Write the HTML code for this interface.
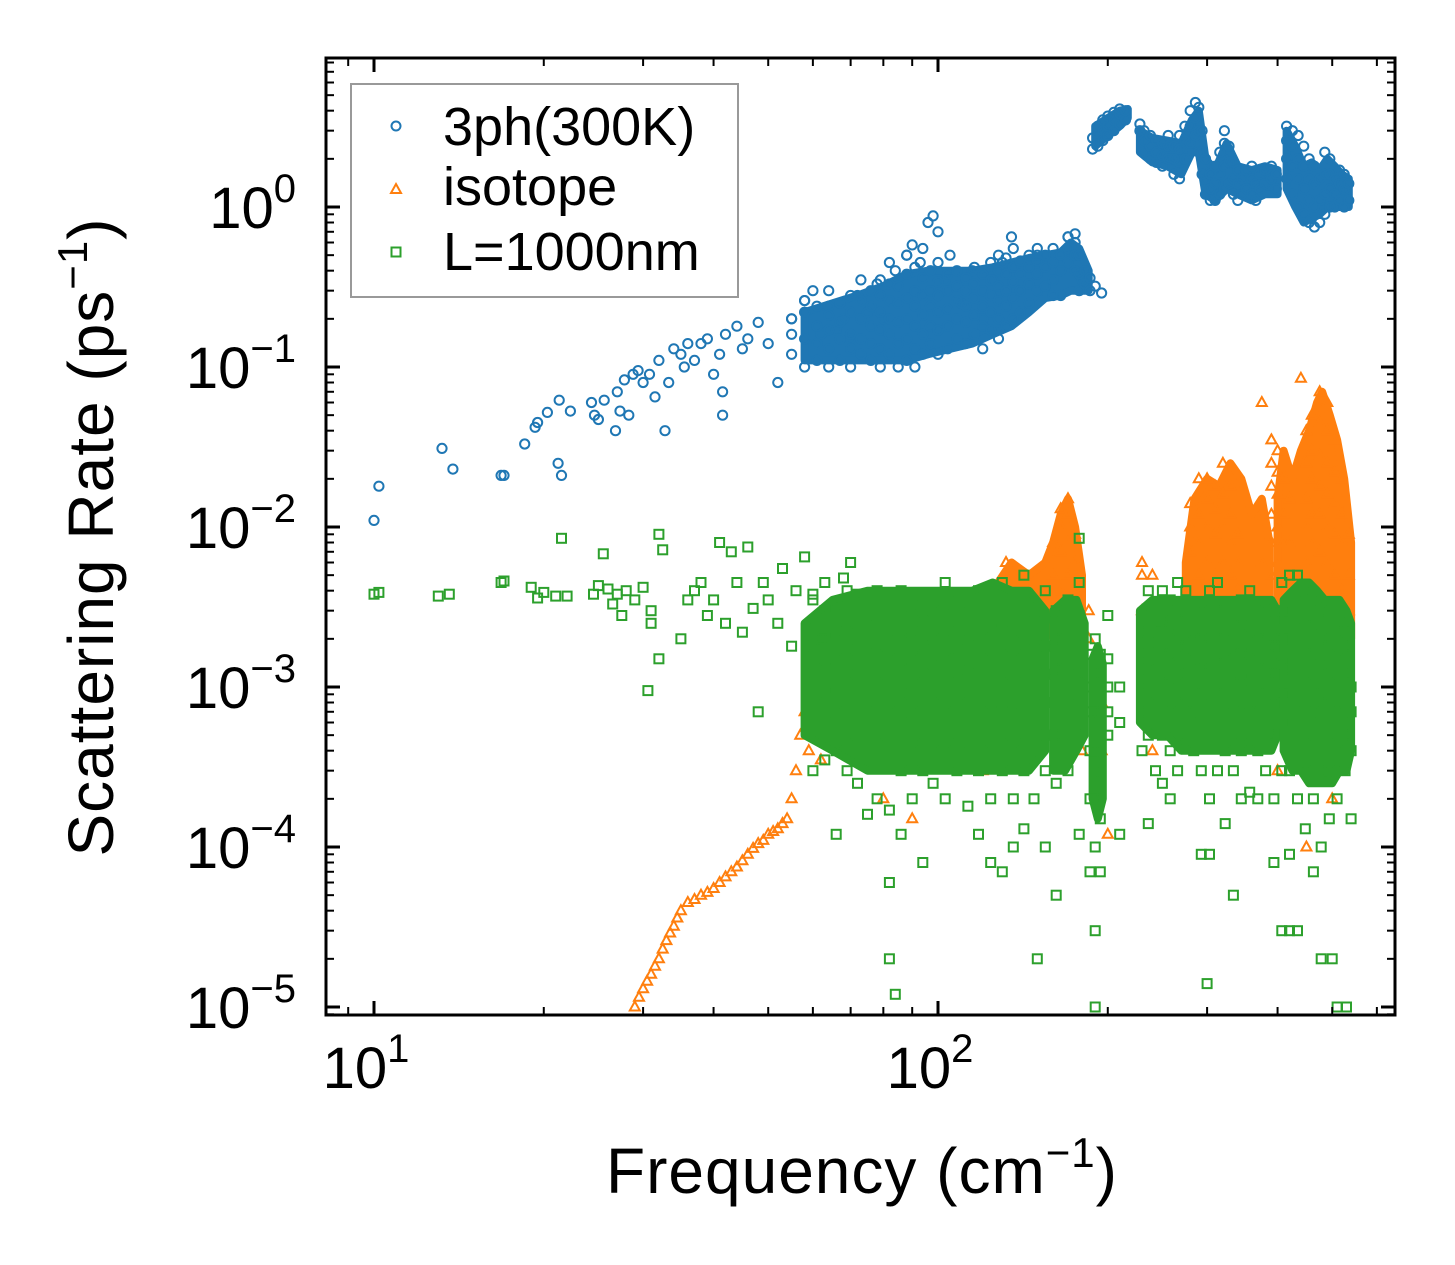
<!DOCTYPE html>
<html><head><meta charset="utf-8"><style>
html,body{margin:0;padding:0;background:#fff;}
svg{display:block;font-family:"Liberation Sans","DejaVu Sans",sans-serif;}
</style></head><body>
<svg id="chart" width="1455" height="1265" viewBox="0 0 1455 1265" xmlns="http://www.w3.org/2000/svg">
<rect x="0" y="0" width="1455" height="1265" fill="#fff"/>
<g id="marks"></g>
<g id="axes"></g>
<text x="862" y="1193" font-size="64" text-anchor="middle" letter-spacing="1">Frequency (cm<tspan font-size="42" dy="-26">−1</tspan><tspan dy="26">)</tspan></text>
<text transform="translate(113,537) rotate(-90)" font-size="64" text-anchor="middle" letter-spacing="1">Scattering Rate (ps<tspan font-size="42" dy="-26">−1</tspan><tspan dy="26">)</tspan></text>
<g>
<rect x="351" y="84" width="387" height="213" fill="#fff" stroke="#999" stroke-width="2"/>
<circle cx="396" cy="126" r="4.5" fill="none" stroke="#1f77b4" stroke-width="2"/>
<text x="443" y="145" font-size="54">3ph(300K)</text>
<path d="M396,184 L401,193 L391,193 Z" fill="none" stroke="#ff7f0e" stroke-width="2"/>
<text x="443" y="205" font-size="54">isotope</text>
<rect x="391.5" y="247.5" width="9" height="9" fill="none" stroke="#2ca02c" stroke-width="2"/>
<text x="443" y="270" font-size="54">L=1000nm</text>
</g>
</svg>
<script>
// ---- data ----
const xTickValues = [10, 100];
const xTickLabels = ["1", "2"];
const yTickValues = [1, 0.1, 0.01, 0.001, 0.0001, 0.00001];
const yTickLabels = ["0", "−1", "−2", "−3", "−4", "−5"];

// 3ph(300K): dense-region envelopes (freq, low rate, high rate)
const ph3BandAFreq = [58,65,72,80,88,96,105,115,125,135,145,155,165,172,178,185];
const ph3BandALow  = [0.11,0.11,0.11,0.11,0.11,0.12,0.13,0.14,0.16,0.18,0.22,0.27,0.28,0.3,0.3,0.3];
const ph3BandAHigh = [0.22,0.25,0.28,0.32,0.38,0.4,0.4,0.4,0.42,0.45,0.48,0.5,0.52,0.6,0.55,0.4];
const ph3BandBFreq = [190,200,210,217];
const ph3BandBLow  = [2.4,2.8,3.2,3.6];
const ph3BandBHigh = [3.2,3.6,4.0,4.1];
const ph3BandCFreq = [228,240,255,270,282,290,298,310,325,340,360,380,400];
const ph3BandCLow  = [2.2,1.9,1.8,1.6,2.2,2.2,1.2,1.1,1.3,1.2,1.1,1.2,1.2];
const ph3BandCHigh = [3.0,2.7,2.6,2.5,3.5,4.0,2.0,1.7,2.5,1.8,1.7,1.8,1.7];
const ph3BandDFreq = [415,430,445,460,475,490,505,520,535];
const ph3BandDLow  = [1.3,1.0,0.8,0.85,0.9,1.0,1.0,1.0,1.0];
const ph3BandDHigh = [3.0,2.4,1.8,1.9,1.7,2.0,1.8,1.6,1.5];

// 3ph(300K): sparse points [freq, rate]
const ph3Sparse = [[10,0.011],[10.2,0.018],[13.2,0.031],[13.8,0.023],[16.8,0.021],[17,0.021],[18.5,0.033],[19.3,0.042],[19.5,0.045],[20.3,0.052],[21.3,0.062],[21.2,0.025],[21.5,0.021],[22.3,0.053],[24.3,0.06],[24.6,0.05],[25,0.047],[25.6,0.062],[26.8,0.04],[27,0.07],[27.3,0.053],[27.8,0.083],[28.3,0.05],[28.8,0.09],[29.4,0.095],[30,0.08],[30.8,0.09],[31.5,0.065],[32,0.11],[32.8,0.04],[33.3,0.08],[34,0.13],[35,0.12],[35.5,0.1],[36,0.14],[37,0.11],[38,0.14],[39,0.15],[40,0.09],[41,0.12],[42,0.16],[41.5,0.07],[41.5,0.05],[44,0.18],[45,0.13],[46,0.15],[48,0.19],[50,0.14],[52,0.08],[55,0.2],[58,0.26],[60,0.3],[62,0.16],[64,0.24],[66,0.17],[68,0.2],[70,0.15],[72,0.28],[75,0.22],[78,0.33],[80,0.2],[84,0.4],[88,0.5],[90,0.58],[93,0.45],[96,0.8],[98,0.88],[100,0.7],[103,0.35],[105,0.5],[110,0.25],[115,0.4],[120,0.2],[125,0.35],[130,0.45],[135,0.65],[140,0.3],[150,0.5],[160,0.28],[170,0.65],[175,0.55],[180,0.35],[190,0.32],[195,0.29]];
// 3ph(300K): dense columns
const ph3Freqs = [55,58,61,64,67,70,73,76,79,82,85,88,91,94,97,100,104,108,112,116,120,124,128,132,136,140,145,150,155,160,165,170,175,178,182,186,188,192,196,200,205,210,215,228,232,238,244,250,256,262,268,274,280,286,290,294,298,304,310,316,322,328,334,340,346,352,360,366,372,380,390,398,415,425,435,445,455,465,475,485,495,505,515,525,535];
const ph3Rates = [[0.12,0.16,0.2],[0.1,0.15,0.22,0.26],[0.11,0.14,0.18,0.24],[0.1,0.13,0.17,0.21,0.3],[0.11,0.15,0.19,0.25],[0.1,0.13,0.16,0.22,0.28],[0.12,0.15,0.2,0.26,0.35],[0.11,0.14,0.18,0.24,0.3],[0.1,0.13,0.17,0.22,0.28,0.35],[0.12,0.16,0.2,0.26,0.33,0.45],[0.1,0.14,0.19,0.25,0.32],[0.11,0.15,0.2,0.27,0.38,0.5],[0.1,0.13,0.18,0.24,0.3,0.42],[0.12,0.16,0.21,0.28,0.36,0.55],[0.14,0.18,0.24,0.3,0.4],[0.12,0.17,0.22,0.28,0.34,0.45],[0.13,0.18,0.23,0.3,0.38],[0.15,0.2,0.26,0.32,0.4],[0.14,0.19,0.24,0.3,0.36],[0.16,0.21,0.27,0.33,0.42],[0.13,0.18,0.24,0.3,0.38],[0.17,0.22,0.28,0.35,0.45],[0.15,0.2,0.26,0.32,0.4,0.5],[0.18,0.24,0.3,0.38,0.48],[0.2,0.27,0.34,0.42,0.55],[0.22,0.3,0.38,0.46],[0.25,0.33,0.42,0.5],[0.3,0.38,0.46,0.55],[0.32,0.42,0.5],[0.35,0.45,0.55],[0.28,0.4,0.5],[0.45,0.55,0.65],[0.4,0.5,0.6,0.68],[0.3,0.38,0.5],[0.33,0.4],[0.3,0.36],[2.3,2.7],[2.4,2.8,3.2],[2.6,3.0,3.5],[2.8,3.2,3.7],[3.0,3.5,3.9],[3.3,3.8,4.1],[3.5,4.0],[3.0,3.3],[2.2,2.6,3.0],[2.0,2.4,2.8],[1.9,2.2,2.6],[1.8,2.1,2.5],[2.0,2.4,2.8],[1.6,2.0,2.4],[1.5,1.9,2.3,2.8],[2.0,2.6,3.2],[2.5,3.2,4.0],[2.8,3.6,4.5],[2.2,3.0,4.2],[1.6,2.2,3.0],[1.2,1.5,2.0],[1.1,1.3,1.6],[1.1,1.4,1.8],[1.2,1.6,2.2],[1.3,1.8,2.5,3.0],[1.4,1.9,2.4],[1.2,1.5,1.9],[1.1,1.4,1.7],[1.2,1.5],[1.3,1.7],[1.2,1.5,1.8],[1.1,1.4],[1.3,1.6],[1.4,1.7],[1.5,1.8],[1.3,1.6],[1.5,2.0,2.6,3.2],[1.2,1.8,2.4,3.0],[1.0,1.5,2.0,2.8],[0.9,1.3,1.8,2.4],[0.8,1.1,1.5,2.0],[0.75,1.0,1.4,1.8],[0.8,1.1,1.5],[0.9,1.2,1.6,2.2],[1.0,1.3,1.6,2.0],[1.0,1.2,1.5],[1.1,1.4,1.7],[1.0,1.3,1.6],[1.1,1.4]];

// isotope: dense-region envelopes
const isoBandAFreq = [125,135,145,155,160,165,170,175,180];
const isoBandALow  = [0.002,0.002,0.002,0.002,0.003,0.003,0.003,0.003,0.002];
const isoBandAHigh = [0.004,0.006,0.005,0.006,0.008,0.012,0.015,0.01,0.005];
const isoBandBFreq = [275,285,300,315,330,345,360,375,387];
const isoBandBLow  = [0.002,0.002,0.002,0.002,0.002,0.002,0.002,0.002,0.002];
const isoBandBHigh = [0.006,0.015,0.02,0.018,0.025,0.02,0.012,0.015,0.008];
const isoBandCFreq = [400,410,425,440,455,470,480,495,510,525,540];
const isoBandCLow  = [0.002,0.002,0.002,0.002,0.002,0.002,0.002,0.002,0.002,0.002,0.002];
const isoBandCHigh = [0.015,0.03,0.02,0.03,0.04,0.06,0.07,0.05,0.035,0.02,0.008];

// isotope: sparse points
const isoSparse = [[29,1.0e-5],[29.5,1.15e-5],[30,1.3e-5],[30.5,1.45e-5],[31,1.6e-5],[31.5,1.8e-5],[32,2e-5],[32.5,2.3e-5],[33,2.6e-5],[33.5,2.9e-5],[34,3.2e-5],[34.5,3.6e-5],[35,4e-5],[36,4.5e-5],[37,4.7e-5],[38,5e-5],[39,5.2e-5],[40,5.5e-5],[41,6e-5],[42,6.5e-5],[43,7e-5],[44,7.5e-5],[45,8.2e-5],[46,9e-5],[47,9.8e-5],[48,1.05e-4],[49,1.1e-4],[50,1.2e-4],[51,1.25e-4],[52,1.3e-4],[53,1.4e-4],[54,1.5e-4],[55,2e-4],[56,3e-4],[57,5e-4],[58,7e-4],[59,4e-4],[60,6e-4],[62,8e-4],[64,1e-3],[66,1.5e-3],[68,8e-4],[70,1.2e-3],[72,2e-3],[75,2.5e-3],[78,3e-3],[62,3.5e-4],[65,6e-4],[80,2e-4],[90,1.5e-4],[100,4e-4],[120,3e-4],[150,4e-4],[180,4e-4],[200,1.2e-4],[240,4e-4],[400,3e-4],[450,1e-4],[500,2e-4]];
// isotope: dense columns
const isoFreqs = [125,132,140,160,165,170,175,185,195,230,240,280,290,300,310,320,330,340,375,390,400,410,420,440,450,460,475,490,505,520,535];
const isoRates = [[0.002,0.003,0.004],[0.003,0.0045,0.006],[0.0025,0.004],[0.003,0.005,0.008],[0.004,0.007,0.01,0.013],[0.005,0.008,0.012,0.015],[0.004,0.006,0.009],[0.002,0.003],[0.0004,0.0008],[0.003,0.005,0.006],[0.003,0.005],[0.004,0.007,0.01,0.014],[0.005,0.008,0.012,0.02],[0.006,0.01,0.015,0.02],[0.005,0.009,0.013,0.018],[0.006,0.01,0.016,0.025],[0.005,0.008,0.012,0.018],[0.004,0.006,0.009],[0.006,0.06],[0.005,0.008,0.012,0.018,0.025,0.035],[0.006,0.01,0.016,0.022,0.03],[0.005,0.008,0.012,0.02],[0.008,0.015],[0.085],[0.006,0.01,0.015,0.025,0.04],[0.008,0.012,0.02,0.03,0.05],[0.007,0.012,0.018,0.028,0.045,0.07],[0.006,0.01,0.016,0.025,0.04,0.06],[0.005,0.009,0.014,0.022,0.035],[0.004,0.008,0.012,0.02],[0.003,0.005,0.009]];

// L=1000nm: dense-region envelopes
const bdyBandAFreq = [58,65,75,85,95,105,115,125,135,145,155];
const bdyBandALow  = [0.0005,0.0004,0.0003,0.0003,0.0003,0.0003,0.0003,0.0003,0.0003,0.0003,0.0004];
const bdyBandAHigh = [0.0025,0.0035,0.004,0.004,0.004,0.004,0.004,0.0045,0.004,0.004,0.003];
const bdyBandBFreq = [160,168,176,182];
const bdyBandBLow  = [0.0003,0.0003,0.0004,0.0005];
const bdyBandBHigh = [0.003,0.0035,0.0035,0.0025];
const bdyBandCFreq = [188,192,196];
const bdyBandCLow  = [0.0002,0.00015,0.0002];
const bdyBandCHigh = [0.0015,0.0018,0.0014];
const bdyBandDFreq = [228,240,255,270,285,300,315,330,345,360,375,390,400];
const bdyBandDLow  = [0.0006,0.0005,0.0005,0.0004,0.0004,0.0004,0.0004,0.0004,0.0004,0.0004,0.0004,0.0004,0.0005];
const bdyBandDHigh = [0.003,0.0035,0.0035,0.0035,0.0035,0.0035,0.0035,0.0035,0.0035,0.0035,0.0035,0.0035,0.003];
const bdyBandEFreq = [410,425,440,455,470,485,500,515,530,540];
const bdyBandELow  = [0.0004,0.0003,0.0003,0.00025,0.00025,0.00025,0.00025,0.0003,0.0003,0.0004];
const bdyBandEHigh = [0.0035,0.004,0.0045,0.0045,0.004,0.0035,0.0035,0.0035,0.003,0.0025];

// L=1000nm: sparse points
const bdySparse = [[10,0.0038],[10.2,0.0039],[13,0.0037],[13.6,0.0038],[16.8,0.0045],[17,0.0046],[19,0.0042],[19.5,0.0036],[20,0.0039],[21,0.0037],[21.5,0.0085],[22,0.0037],[24.5,0.0038],[25,0.0043],[25.5,0.0068],[26,0.0041],[26.5,0.0033],[27,0.0038],[27.5,0.0028],[28,0.004],[29,0.0035],[30,0.0042],[31,0.003],[32,0.009],[32.5,0.0072],[31,0.0025],[32,0.0015],[30.6,0.00095],[35,0.002],[36,0.0035],[37,0.004],[38,0.0045],[39,0.0028],[40,0.0035],[41,0.008],[42,0.0025],[43,0.007],[44,0.0045],[45,0.0022],[46,0.0075],[47,0.0031],[48,0.0007],[49,0.0045],[50,0.0035],[52,0.0025],[53,0.0055],[55,0.0018],[56,0.004],[58,0.0065],[60,0.0038],[62,0.002],[65,0.0028],[68,0.0048],[70,0.006],[82,0.00002],[84,0.000012],[150,0.00002],[190,0.00001],[210,0.00012],[300,0.000014],[420,0.00003],[500,0.00002],[530,0.00001]];
// L=1000nm: dense columns
const bdyFreqs = [60,63,66,69,72,75,78,82,86,90,94,98,103,108,113,118,124,130,136,142,148,155,162,170,178,186,190,194,200,210,230,236,243,250,258,266,275,284,293,303,313,323,334,345,357,369,381,394,407,420,434,448,463,478,494,510,527,540];
const bdyRates = [[0.0003,0.0005,0.0008,0.0012,0.0018,0.0025,0.0035],[0.00035,0.0006,0.0009,0.0013,0.002,0.003,0.0045],[0.00012,0.0004,0.0007,0.001,0.0015,0.0022,0.0032],[0.0003,0.0005,0.0008,0.0012,0.0017,0.0025,0.004],[0.00025,0.0006,0.0009,0.0014,0.002,0.0028,0.0038],[0.00016,0.0004,0.0007,0.0011,0.0016,0.0024,0.0035],[0.0002,0.0005,0.0008,0.0012,0.0018,0.0027,0.004],[0.00006,0.00017,0.0004,0.0007,0.001,0.0015,0.0022,0.003],[0.00012,0.0003,0.0006,0.0009,0.0013,0.002,0.0028,0.004],[0.0002,0.0004,0.0007,0.001,0.0015,0.0022,0.0032],[0.00008,0.0003,0.0005,0.0008,0.0012,0.0018,0.0026,0.0036],[0.00025,0.0004,0.0006,0.0009,0.0014,0.002,0.003],[0.0002,0.0004,0.0007,0.001,0.0015,0.0022,0.0032,0.0045],[0.0003,0.0005,0.0008,0.0012,0.0017,0.0025,0.0035],[0.00018,0.0004,0.0006,0.0009,0.0013,0.002,0.003],[0.00012,0.0003,0.0005,0.0008,0.0012,0.0018,0.0027,0.004],[0.00008,0.0002,0.0004,0.0007,0.001,0.0015,0.0023,0.0034],[0.00007,0.0003,0.0005,0.0008,0.0012,0.0018,0.0026,0.0045],[0.0001,0.0002,0.0004,0.0007,0.001,0.0015,0.0022,0.0033],[0.00013,0.0003,0.0005,0.0008,0.0012,0.0018,0.0028,0.005],[0.0002,0.0004,0.0006,0.0009,0.0014,0.002,0.003],[0.0001,0.0003,0.0005,0.0008,0.0012,0.0018,0.0027,0.004],[0.00005,0.00025,0.0005,0.0008,0.0013,0.002,0.003],[0.0003,0.0004,0.0006,0.0009,0.0014,0.0022,0.0035],[0.00012,0.0005,0.0008,0.0012,0.0018,0.0028,0.0045,0.0085],[0.00007,0.0002,0.0004,0.0007,0.001,0.0016],[0.00003,0.0001,0.0002,0.0004,0.0007,0.0012,0.002],[0.00007,0.00015,0.0003,0.0006,0.001,0.0016],[0.0005,0.0007,0.001,0.0015,0.0028],[0.0006,0.001],[0.0004,0.0007,0.0011,0.0016,0.0022],[0.00014,0.0005,0.0009,0.0013,0.0019,0.0027,0.004],[0.0003,0.0006,0.001,0.0015,0.0022,0.0032],[0.00025,0.0005,0.0008,0.0012,0.0018,0.0026,0.004],[0.0002,0.0004,0.0007,0.0011,0.0016,0.0024,0.0035],[0.0003,0.0006,0.0009,0.0014,0.002,0.003,0.0045],[0.0005,0.0008,0.0012,0.0018,0.0027,0.004],[0.0004,0.0007,0.001,0.0015,0.0022,0.0033],[0.00009,0.0003,0.0006,0.0009,0.0013,0.002,0.003],[0.00009,0.0002,0.0005,0.0008,0.0012,0.0018,0.0027,0.004],[0.0003,0.0006,0.0009,0.0014,0.002,0.003,0.0045],[0.00014,0.0004,0.0007,0.001,0.0015,0.0022,0.0033],[0.00005,0.0003,0.0005,0.0008,0.0012,0.0018,0.0027],[0.0002,0.0004,0.0007,0.0011,0.0016,0.0024,0.0035],[0.00022,0.0005,0.0008,0.0012,0.0018,0.0027,0.004],[0.0002,0.0004,0.0007,0.001,0.0015,0.0022,0.0033],[0.0003,0.0006,0.0009,0.0013,0.002,0.003],[0.00008,0.0002,0.0005,0.0008,0.0012,0.0018,0.0027],[0.00003,0.0003,0.0006,0.0009,0.0014,0.002,0.003,0.0045],[0.00009,0.0003,0.0006,0.0009,0.0013,0.002,0.003,0.005],[0.00003,0.0002,0.0004,0.0007,0.001,0.0015,0.0023,0.0035,0.005],[0.00013,0.0003,0.0005,0.0008,0.0012,0.0018,0.0027,0.004],[0.00007,0.0002,0.0004,0.0007,0.001,0.0016,0.0024,0.0035],[0.00002,0.0001,0.0003,0.0006,0.0009,0.0014,0.002,0.003],[0.00015,0.0003,0.0005,0.0008,0.0012,0.0018,0.0027],[0.00001,0.0002,0.0004,0.0007,0.001,0.0015,0.0022],[0.0003,0.0005,0.0008,0.0012,0.0018,0.0025],[0.00015,0.0004,0.0007,0.001]];

// ---- axes ----
const NS = "http://www.w3.org/2000/svg";
const PL = 326, PR = 1395, PT = 58, PB = 1015;
const X10 = 374, XDEC = 564, Y1 = 207, YDEC = 160;
function xs(v){ return X10 + (Math.log10(v) - 1) * XDEC; }
function ys(v){ return Y1 - Math.log10(v) * YDEC; }

const marks = document.getElementById('marks');
const axes = document.getElementById('axes');
function mk(tag, attrs, parent){
  const e = document.createElementNS(NS, tag);
  for (const k in attrs) e.setAttribute(k, attrs[k]);
  parent.appendChild(e);
  return e;
}
function inPlot(x, y){ return x >= PL - 6 && x <= PR + 6 && y >= PT - 6 && y <= PB + 6; }

function drawBand(freq, low, high, color, name){
  const pts = [];
  for (let i = 0; i < freq.length; i++) pts.push(xs(freq[i]).toFixed(1) + ',' + ys(high[i]).toFixed(1));
  for (let i = freq.length - 1; i >= 0; i--) pts.push(xs(freq[i]).toFixed(1) + ',' + ys(low[i]).toFixed(1));
  const p = mk('polygon', {points: pts.join(' '), fill: color, stroke: color, 'stroke-width': 8, 'stroke-linejoin': 'round'}, marks);
  
  
}
function drawCircle(f, r){
  const x = xs(f), y = ys(r);
  if (!inPlot(x, y)) return;
  const c = mk('circle', {cx: x.toFixed(1), cy: y.toFixed(1), r: 4.6, fill: 'none', stroke: '#1f77b4', 'stroke-width': 2}, marks);
  
  
}
function drawTri(f, r){
  const x = xs(f), y = ys(r);
  if (!inPlot(x, y)) return;
  const p = mk('path', {d: `M${x.toFixed(1)},${(y-5.5).toFixed(1)} L${(x+5).toFixed(1)},${(y+3.5).toFixed(1)} L${(x-5).toFixed(1)},${(y+3.5).toFixed(1)} Z`, fill: 'none', stroke: '#ff7f0e', 'stroke-width': 2}, marks);
  
  
}
function drawSq(f, r){
  const x = xs(f), y = ys(r);
  if (!inPlot(x, y)) return;
  const s = mk('rect', {x: (x-4.5).toFixed(1), y: (y-4.5).toFixed(1), width: 9, height: 9, fill: 'none', stroke: '#2ca02c', 'stroke-width': 2}, marks);
  
  
}

const BLUE = '#1f77b4', ORANGE = '#ff7f0e', GREEN = '#2ca02c';
drawBand(ph3BandAFreq, ph3BandALow, ph3BandAHigh, BLUE, 'dense-3ph-low');
drawBand(ph3BandBFreq, ph3BandBLow, ph3BandBHigh, BLUE, 'dense-3ph-high-a');
drawBand(ph3BandCFreq, ph3BandCLow, ph3BandCHigh, BLUE, 'dense-3ph-high-b');
drawBand(ph3BandDFreq, ph3BandDLow, ph3BandDHigh, BLUE, 'dense-3ph-high-c');
ph3Sparse.forEach(p => drawCircle(p[0], p[1]));
ph3Freqs.forEach((f, i) => ph3Rates[i].forEach(r => drawCircle(f, r)));

drawBand(isoBandAFreq, isoBandALow, isoBandAHigh, ORANGE, 'dense-isotope-a');
drawBand(isoBandBFreq, isoBandBLow, isoBandBHigh, ORANGE, 'dense-isotope-b');
drawBand(isoBandCFreq, isoBandCLow, isoBandCHigh, ORANGE, 'dense-isotope-c');
isoSparse.forEach(p => drawTri(p[0], p[1]));
isoFreqs.forEach((f, i) => isoRates[i].forEach(r => drawTri(f, r)));

drawBand(bdyBandAFreq, bdyBandALow, bdyBandAHigh, GREEN, 'dense-l1000nm-a');
drawBand(bdyBandBFreq, bdyBandBLow, bdyBandBHigh, GREEN, 'dense-l1000nm-b');
drawBand(bdyBandCFreq, bdyBandCLow, bdyBandCHigh, GREEN, 'dense-l1000nm-c');
drawBand(bdyBandDFreq, bdyBandDLow, bdyBandDHigh, GREEN, 'dense-l1000nm-d');
drawBand(bdyBandEFreq, bdyBandELow, bdyBandEHigh, GREEN, 'dense-l1000nm-e');
bdySparse.forEach(p => drawSq(p[0], p[1]));
bdyFreqs.forEach((f, i) => bdyRates[i].forEach(r => drawSq(f, r)));

// frame
const frame = mk('rect', {x: PL, y: PT, width: PR - PL, height: PB - PT, fill: 'none', stroke: '#000', 'stroke-width': 3}, axes);



// x ticks
for (let d = 0; d <= 2; d++) {
  for (let m = 1; m <= 9; m++) {
    const v = m * Math.pow(10, d);
    const x = xs(v);
    if (x < PL || x > PR) continue;
    const len = m === 1 ? 14 : 8;
    const t1 = mk('line', {x1: x, x2: x, y1: PB, y2: PB - len, stroke: '#000', 'stroke-width': m === 1 ? 3 : 2}, axes);
    
    
    const t2 = mk('line', {x1: x, x2: x, y1: PT, y2: PT + len, stroke: '#000', 'stroke-width': m === 1 ? 3 : 2}, axes);
    
    
  }
}
xTickValues.forEach((v, i) => {
  const t = mk('text', {x: xs(v) - 8, y: 1088, 'font-size': 58, 'text-anchor': 'middle'}, axes);
  
  
  t.textContent = '10';
  const s = mk('tspan', {'font-size': 40, dy: -26}, t);
  s.textContent = xTickLabels[i];
});

// y ticks
for (let d = -6; d <= 0; d++) {
  for (let m = 1; m <= 9; m++) {
    const v = m * Math.pow(10, d);
    const y = ys(v);
    if (y < PT || y > PB) continue;
    const len = m === 1 ? 14 : 8;
    const t1 = mk('line', {x1: PL, x2: PL + len, y1: y, y2: y, stroke: '#000', 'stroke-width': m === 1 ? 3 : 2}, axes);
    
    
    const t2 = mk('line', {x1: PR, x2: PR - len, y1: y, y2: y, stroke: '#000', 'stroke-width': m === 1 ? 3 : 2}, axes);
    
    
  }
}
yTickValues.forEach((v, i) => {
  const t = mk('text', {x: 296, y: ys(v) + 21, 'font-size': 58, 'text-anchor': 'end'}, axes);
  
  
  t.textContent = '10';
  const s = mk('tspan', {'font-size': 40, dy: -26}, t);
  s.textContent = yTickLabels[i];
});
</script>
</body></html>
